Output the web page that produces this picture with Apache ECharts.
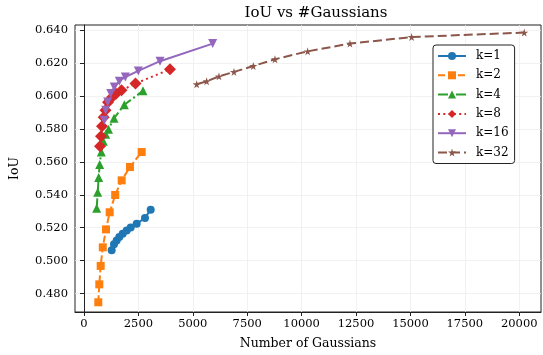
<!DOCTYPE html>
<html>
<head>
<meta charset="utf-8">
<script src="https://cdn.jsdelivr.net/npm/echarts@6/dist/echarts.min.js"></script>
<style>
  html, body { margin: 0; padding: 0; background: #fff; }
  #chart { width: 543px; height: 355px; }
</style>
</head>
<body>
<div id="chart"></div>
<script>
// data: [gaussians, IoU]
const k1 = [[1272, 0.5063], [1378, 0.5099], [1501, 0.5123], [1622, 0.5143], [1778, 0.5164],
  [1962, 0.5184], [2146, 0.5201], [2421, 0.5225], [2803, 0.5259], [3065, 0.5310]];
const k2 = [[657, 0.4747], [703, 0.4856], [767, 0.4968], [864, 0.5081], [1011, 0.5190],
  [1181, 0.5294], [1434, 0.5399], [1732, 0.5488], [2113, 0.5569], [2651, 0.5660]];
const k4 = [[583, 0.5318], [630, 0.5415], [675, 0.5506], [721, 0.5585], [795, 0.5661],
  [887, 0.5725], [997, 0.5768], [1126, 0.5798], [1378, 0.5865], [1852, 0.5947], [2711, 0.6032]];
const k8 = [[735, 0.5695], [781, 0.5756], [827, 0.5816], [905, 0.5871], [988, 0.5914],
  [1103, 0.5962], [1286, 0.5993], [1470, 0.6014], [1723, 0.6035], [2366, 0.6076], [3951, 0.6163]];
const k16 = [[933, 0.5853], [997, 0.5914], [1089, 0.5964], [1227, 0.6015], [1392, 0.6055],
  [1622, 0.6090], [1898, 0.6116], [2495, 0.6153], [3492, 0.6212], [5913, 0.6319]];
const k32 = [[5178, 0.6072], [5637, 0.6090], [6203, 0.6120], [6892, 0.6147], [7779, 0.6183],
  [8776, 0.6224], [10278, 0.6272], [12221, 0.6319], [15056, 0.6359], [20230, 0.6386]];

const xTicks = [0, 2500, 5000, 7500, 10000, 12500, 15000, 17500, 20000];
const yTicks = [0.48, 0.50, 0.52, 0.54, 0.56, 0.58, 0.60, 0.62, 0.64];

const FONT = "DejaVu Serif";
const star = "path://M50,0 L61,35 L98,35 L68,57 L79,91 L50,70 L21,91 L32,57 L2,35 L39,35 Z";

// 一条线的配置
function line(name, data, color, type, symbol, size, rotate) {
  return {
    name: name,
    type: "line",
    data: data,
    symbol: symbol,
    symbolSize: size,
    symbolRotate: rotate || 0,
    showAllSymbol: true,
    color: color,
    lineStyle: { color: color, width: 2, type: type },
    itemStyle: { color: color },
    emphasis: { disabled: true },
    animation: false,
  };
}

let myChart = echarts.init(document.getElementById("chart"));
let option = {
  backgroundColor: "#fff",
  textStyle: { fontFamily: FONT },
  title: {
    text: "IoU vs #Gaussians",
    left: 311,
    top: 1,
    textAlign: "center",
    textStyle: { fontFamily: FONT, fontSize: 15, fontWeight: "normal", color: "#000" },
  },
  grid: {
    left: 75,
    right: 2,
    top: 25,
    bottom: 43,
    show: true,
    borderColor: "#222",
    borderWidth: 1,
  },
  legend: {
    orient: "vertical",
    left: 433,
    top: 45,
    padding: [5, 6, 5, 4],
    itemWidth: 28,
    itemHeight: 10,
    itemGap: 7.3,
    backgroundColor: "#fff",
    borderColor: "#222",
    borderWidth: 1,
    borderRadius: 3,
    textStyle: { fontFamily: FONT, fontSize: 12, color: "#000", padding: [0, 0, 0, 5] },
    data: ["k=1", "k=2", "k=4", "k=8", "k=16", "k=32"],
  },
  xAxis: {
    type: "value",
    min: -413,
    max: 21000,
    name: "Number of Gaussians",
    nameLocation: "middle",
    nameGap: 25,
    nameTextStyle: { fontFamily: FONT, fontSize: 12.5, color: "#000" },
    axisLine: { show: true, lineStyle: { color: "#222" } },
    axisTick: { show: true, length: 4, customValues: xTicks, lineStyle: { color: "#222" } },
    axisLabel: {
      customValues: xTicks,
      margin: 6,
      fontFamily: FONT,
      fontSize: 11.5,
      color: "#000",
      formatter: (v) => String(v),
    },
    splitLine: { show: true, lineStyle: { color: "#eeeeee", width: 0.8 } },
  },
  yAxis: {
    type: "value",
    min: 0.4688,
    max: 0.6432,
    name: "IoU",
    nameLocation: "middle",
    nameRotate: 90,
    nameGap: 54,
    nameTextStyle: { fontFamily: FONT, fontSize: 12.5, color: "#000" },
    axisLine: { show: true, lineStyle: { color: "#222" } },
    axisTick: { show: true, length: 4, customValues: yTicks, lineStyle: { color: "#222" } },
    axisLabel: {
      customValues: yTicks,
      margin: 7,
      fontFamily: FONT,
      fontSize: 11.5,
      color: "#000",
      formatter: (v) => v.toFixed(3),
    },
    splitLine: { show: true, lineStyle: { color: "#eeeeee", width: 0.8 } },
  },
  series: [
    line("k=1", k1, "#1f77b4", "solid", "circle", 8),
    line("k=2", k2, "#ff7f0e", [7, 3], "rect", 8),
    line("k=4", k4, "#2ca02c", [10, 3, 2, 3], "triangle", 9),
    line("k=8", k8, "#d62728", [2, 3.3], "diamond", 12),
    line("k=16", k16, "#9467bd", "solid", "triangle", 9, 180),
    line("k=32", k32, "#8c564b", [9, 4], star, 8),
  ],
};
myChart.setOption(option);
</script>
</body>
</html>
